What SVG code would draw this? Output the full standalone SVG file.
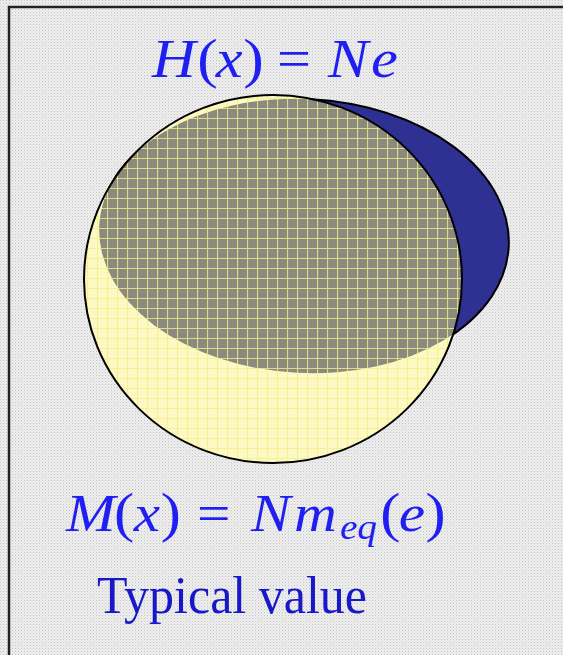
<svg xmlns="http://www.w3.org/2000/svg" width="563" height="655" viewBox="0 0 563 655">
  <style>
    .math { font-family: "Liberation Serif", "Times New Roman", serif; fill: #1f1ff2; }
    .it { font-style: italic; }
    .plain { font-family: "Liberation Serif", "Times New Roman", serif; fill: #1818c8; }
    .outline { fill: none; stroke: #000; stroke-width: 2; }
  </style>
  <defs>
    <pattern id="dots" x="0" y="0" width="3" height="3" patternUnits="userSpaceOnUse">
      <rect width="3" height="3" fill="#eeeeee"/>
      <rect x="0" y="0" width="1" height="1" fill="#c4c4c4"/>
      <rect x="1.5" y="1.5" width="1" height="1" fill="#d6d6d6"/>
    </pattern>
    <pattern id="grid" x="7" y="8" width="10" height="10" patternUnits="userSpaceOnUse">
      <path d="M0.5 0 V10 M0 0.5 H10" stroke="#f4ee8a" stroke-width="1.2" stroke-opacity="0.8" fill="none"/>
    </pattern>
    <clipPath id="circleClip">
      <ellipse cx="273" cy="279" rx="189" ry="184"/>
    </clipPath>
  </defs>

  <rect x="0" y="0" width="563" height="655" fill="url(#dots)"/>
  <rect x="9" y="7" width="620" height="700" fill="none" stroke="#222" stroke-width="2.5"/>

  <g id="node-H">
    <ellipse cx="304" cy="236" rx="205" ry="137" transform="rotate(3 304 236)" fill="#2e3192" stroke="#000" stroke-width="2"/>
  </g>

  <g id="node-M">
    <ellipse cx="273" cy="279" rx="189" ry="184" fill="#fdf9c4"/>
    <g clip-path="url(#circleClip)">
      <ellipse cx="304" cy="236" rx="205" ry="137" transform="rotate(3 304 236)" fill="#8a8a7e"/>
      <rect x="80" y="90" width="390" height="380" fill="url(#grid)"/>
    </g>
    <ellipse class="outline" cx="273" cy="279" rx="189" ry="184"/>
  </g>

  <g id="connectors"></g>

  <g id="label-H" transform="translate(152 0) scale(1.12 1)">
    <text class="math" font-size="54" y="77">
      <tspan class="it" x="0">H</tspan><tspan x="40.5" font-size="55">(</tspan><tspan class="it" x="57">x</tspan><tspan x="81.5" font-size="55">)</tspan><tspan x="111.6">=</tspan><tspan class="it" x="157.1">N</tspan><tspan class="it" x="195.5">e</tspan>
    </text>
  </g>

  <g id="label-M" transform="translate(66 0) scale(1.12 1)">
    <text class="math" font-size="53" y="531">
      <tspan class="it" x="0">M</tspan><tspan x="42.9" font-size="54">(</tspan><tspan class="it" x="60.5">x</tspan><tspan x="84.5" font-size="54">)</tspan><tspan x="117">=</tspan><tspan class="it" x="165.2">N</tspan><tspan class="it" x="203.6">m</tspan><tspan class="it" x="244.6" y="539" font-size="35">eq</tspan><tspan x="280.5" y="531" font-size="54">(</tspan><tspan class="it" x="297">e</tspan><tspan x="321" font-size="54">)</tspan>
    </text>
  </g>

  <g id="label-typical">
    <text class="plain" x="97" y="613" font-size="53" textLength="270" lengthAdjust="spacingAndGlyphs">Typical value</text>
  </g>
</svg>
